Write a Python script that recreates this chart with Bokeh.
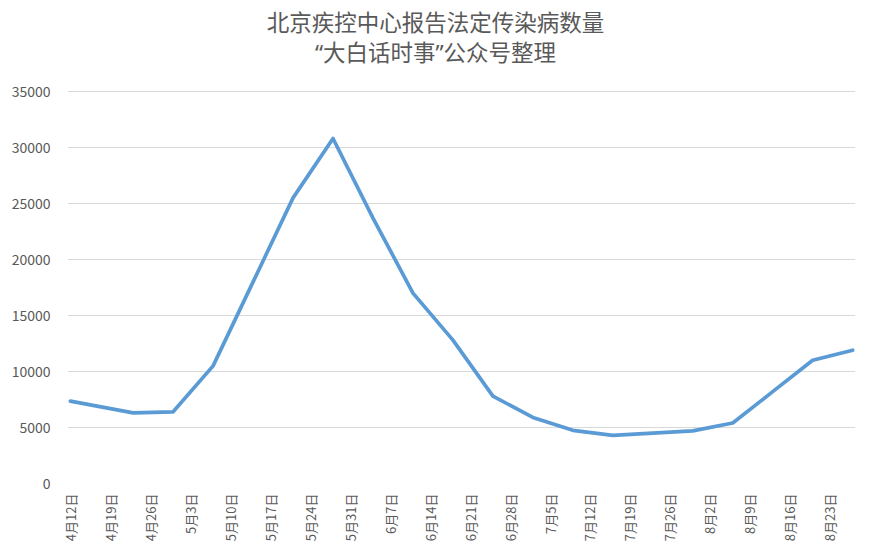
import math
import pandas as pd
from bokeh.plotting import figure
from bokeh.models import Range1d, FixedTicker, Label
from bokeh.embed import file_html
from bokeh.resources import INLINE

# ---- data ----
title_line1 = "北京疾控中心报告法定传染病数量"
title_line2 = "“大白话时事”公众号整理"

report_dates = ["2020-04-12", "2020-04-23", "2020-04-30", "2020-05-07", "2020-05-14",
                "2020-05-21", "2020-05-28", "2020-06-04", "2020-06-11", "2020-06-18",
                "2020-06-25", "2020-07-02", "2020-07-09", "2020-07-16", "2020-07-23",
                "2020-07-30", "2020-08-06", "2020-08-13", "2020-08-20", "2020-08-27"]
case_counts = [7350, 6300, 6400, 10500, 18000, 25500, 30800, 23700, 17000, 12800,
               7800, 5900, 4750, 4300, 4500, 4700, 5400, 8200, 11000, 11900]

tick_dates = ["2020-04-12", "2020-04-19", "2020-04-26", "2020-05-03", "2020-05-10",
              "2020-05-17", "2020-05-24", "2020-05-31", "2020-06-07", "2020-06-14",
              "2020-06-21", "2020-06-28", "2020-07-05", "2020-07-12", "2020-07-19",
              "2020-07-26", "2020-08-02", "2020-08-09", "2020-08-16", "2020-08-23"]
tick_labels = ["4月12日", "4月19日", "4月26日", "5月3日", "5月10日", "5月17日", "5月24日",
               "5月31日", "6月7日", "6月14日", "6月21日", "6月28日", "7月5日", "7月12日",
               "7月19日", "7月26日", "8月2日", "8月9日", "8月16日", "8月23日"]
y_ticks = [0, 5000, 10000, 15000, 20000, 25000, 30000, 35000]

# ---- build ----
origin = pd.Timestamp(report_dates[0])
days = [int((pd.Timestamp(d) - origin).days) for d in report_dates]
tick_days = [int((pd.Timestamp(d) - origin).days) for d in tick_dates]

FONT = "Noto Sans CJK SC"
TITLE_FONT = "'Noto Sans', 'Noto Sans CJK SC'"
GRAY = "#595959"

# frame: left 67, right 855, top 5, bottom 483 (35000 sits at y=91)
FRAME_TOP, FRAME_BOTTOM, Y35 = 5, 483, 91
y_top = 35000 * (FRAME_BOTTOM - FRAME_TOP) / (FRAME_BOTTOM - Y35)

p = figure(width=871, height=560, output_backend="svg", toolbar_location=None,
           x_range=Range1d(-0.5, 137.5), y_range=Range1d(0, y_top),
           min_border_left=67, min_border_right=16, min_border_top=FRAME_TOP,
           min_border_bottom=560 - FRAME_BOTTOM)
p.outline_line_color = None
p.background_fill_color = "white"
p.border_fill_color = "white"

p.line(days, case_counts, line_color="#5B9BD5", line_width=3.7,
       line_join="round", line_cap="round")

# axes
p.xaxis.ticker = FixedTicker(ticks=tick_days)
p.xaxis.major_label_overrides = {d: lab for d, lab in zip(tick_days, tick_labels)}
p.xaxis.major_label_orientation = math.pi / 2
p.xaxis.axis_line_color = None
p.xaxis.major_tick_line_color = None
p.xaxis.minor_tick_line_color = None
p.xaxis.major_tick_out = 0
p.xaxis.major_label_standoff = 10
p.xaxis.major_label_text_font = FONT
p.xaxis.major_label_text_font_size = "13px"
p.xaxis.major_label_text_color = GRAY

p.yaxis.ticker = FixedTicker(ticks=y_ticks)
p.yaxis.axis_line_color = None
p.yaxis.major_tick_line_color = None
p.yaxis.minor_tick_line_color = None
p.yaxis.major_tick_out = 0
p.yaxis.major_label_standoff = 17
p.yaxis.major_label_text_font = FONT
p.yaxis.major_label_text_font_size = "14px"
p.yaxis.major_label_text_color = GRAY

p.xgrid.grid_line_color = None
p.ygrid.grid_line_color = "#D9D9D9"
p.ygrid.grid_line_width = 1

# titles (screen units relative to plot frame)
for txt, yy in [(title_line1, FRAME_BOTTOM - 22), (title_line2, FRAME_BOTTOM - 52)]:
    p.add_layout(Label(x=435 - 67, y=yy, x_units="screen", y_units="screen", text=txt,
                       text_align="center", text_baseline="middle",
                       text_font=TITLE_FONT, text_font_size="22.5px", text_color=GRAY))

open("out.html", "w").write(file_html(p, INLINE))
